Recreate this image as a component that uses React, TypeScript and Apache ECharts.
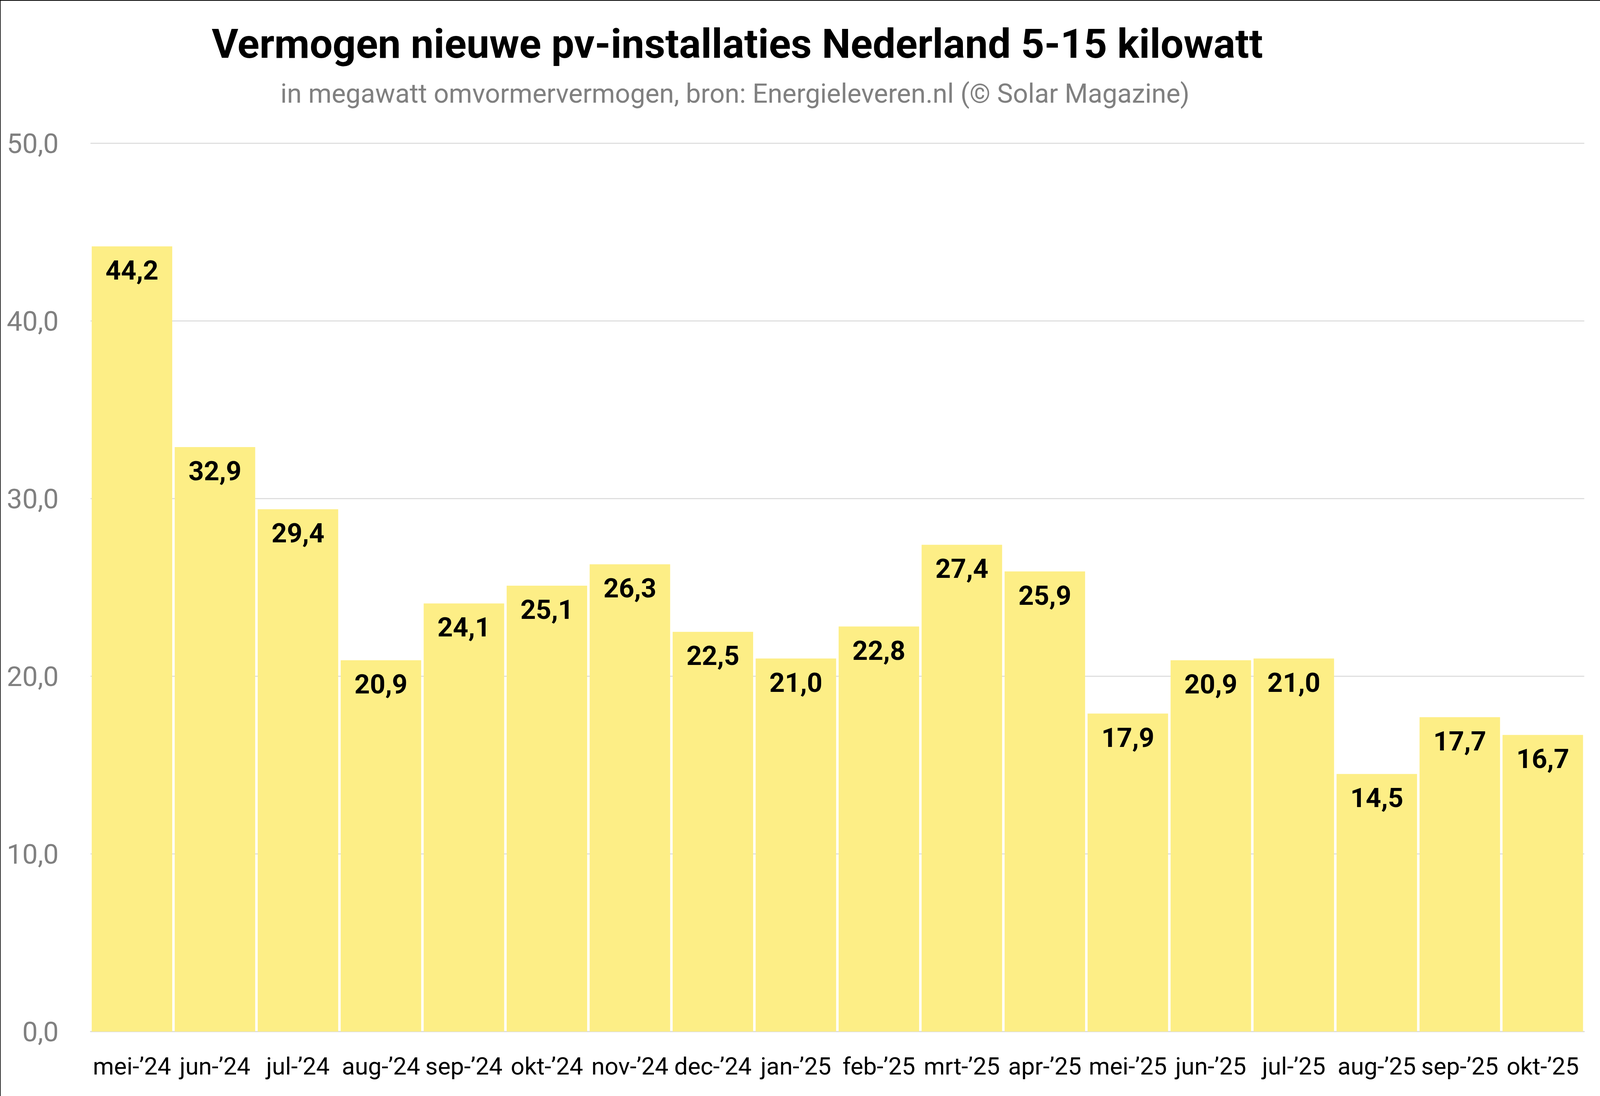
import React, { useEffect, useRef } from "react";
import * as echarts from "echarts";

const categories = [
  "mei-’24", "jun-’24", "jul-’24", "aug-’24", "sep-’24", "okt-’24",
  "nov-’24", "dec-’24", "jan-’25", "feb-’25", "mrt-’25", "apr-’25",
  "mei-’25", "jun-’25", "jul-’25", "aug-’25", "sep-’25", "okt-’25",
];
const values = [
  44.2, 32.9, 29.4, 20.9, 24.1, 25.1, 26.3, 22.5, 21.0, 22.8, 27.4, 25.9,
  17.9, 20.9, 21.0, 14.5, 17.7, 16.7,
];
const titleText = "Vermogen nieuwe pv-installaties Nederland 5-15 kilowatt";
const subtitleText =
  "in megawatt omvormervermogen, bron: Energieleveren.nl (© Solar Magazine)";

const REF_W = 4987;
const REF_H = 2807;
const fmt = (v: number) => v.toFixed(1).replace(".", ",");

export default function App() {
  const ref = useRef<HTMLDivElement>(null);
  const W = window.innerWidth || REF_W;
  const H = window.innerHeight || REF_H;
  useEffect(() => {
    document.body.style.margin = "0";
    const sx = W / REF_W;
    const sy = H / REF_H;
    const s = Math.min(sx, sy);
    const chart = echarts.init(ref.current!, undefined, {
      renderer: "svg",
      width: W,
      height: H,
    });
    chart.setOption({
      animation: false,
      backgroundColor: "#ffffff",
      textStyle: { fontFamily: "Roboto" },
      graphic: [
        {
          type: "rect",
          shape: { x: 0, y: 0, width: W, height: Math.max(1, 2 * sy) },
          style: { fill: "#000000" },
          silent: true,
        },
        {
          type: "rect",
          shape: { x: 0, y: 0, width: Math.max(1, 2 * sx), height: H },
          style: { fill: "#000000" },
          silent: true,
        },
        {
          type: "text",
          x: 2298 * sx,
          y: 112 * sy,
          style: {
            text: titleText,
            fontFamily: "Roboto",
            fontWeight: "bold",
            fontSize: 127 * s,
            fill: "#000000",
            align: "center",
            verticalAlign: "middle",
          },
        },
        {
          type: "text",
          x: 2291 * sx,
          y: 240 * sy,
          style: {
            text: subtitleText,
            fontFamily: "Roboto",
            fontSize: 83 * s,
            fill: "#808080",
            align: "center",
            verticalAlign: "middle",
          },
        },
      ],
      grid: {
        left: 282 * sx,
        right: 49 * sx,
        top: 367 * sy,
        bottom: 165 * sy,
        containLabel: false,
      },
      xAxis: {
        type: "category",
        data: categories,
        axisLine: { show: true, lineStyle: { color: "#d9d9d9", width: 3 * s } },
        axisTick: { show: false },
        axisLabel: {
          color: "#000000",
          fontFamily: "Roboto",
          fontSize: 75 * s,
          margin: 58 * sy,
          interval: 0,
        },
      },
      yAxis: {
        type: "value",
        min: 0,
        max: 50,
        interval: 10,
        axisLine: { show: false },
        axisTick: { show: false },
        splitLine: { lineStyle: { color: "#d9d9d9", width: 3 * s } },
        axisLabel: {
          color: "#808080",
          fontFamily: "Roboto",
          fontSize: 86 * s,
          margin: 99 * sx,
          formatter: (v: number) => fmt(v),
        },
      },
      series: [
        {
          type: "bar",
          data: values,
          barCategoryGap: "3%",
          itemStyle: { color: "#FDEE86" },
          label: {
            show: true,
            position: "insideTop",
            distance: 27 * sy,
            color: "#000000",
            fontFamily: "Roboto",
            fontWeight: "bold",
            fontSize: 84 * s,
            formatter: (p: any) => fmt(p.value),
          },
        },
      ],
    });
    return () => chart.dispose();
  }, []);
  return (
    <div
      ref={ref}
      style={{ position: "fixed", left: 0, top: 0, width: W, height: H }}
    />
  );
}
